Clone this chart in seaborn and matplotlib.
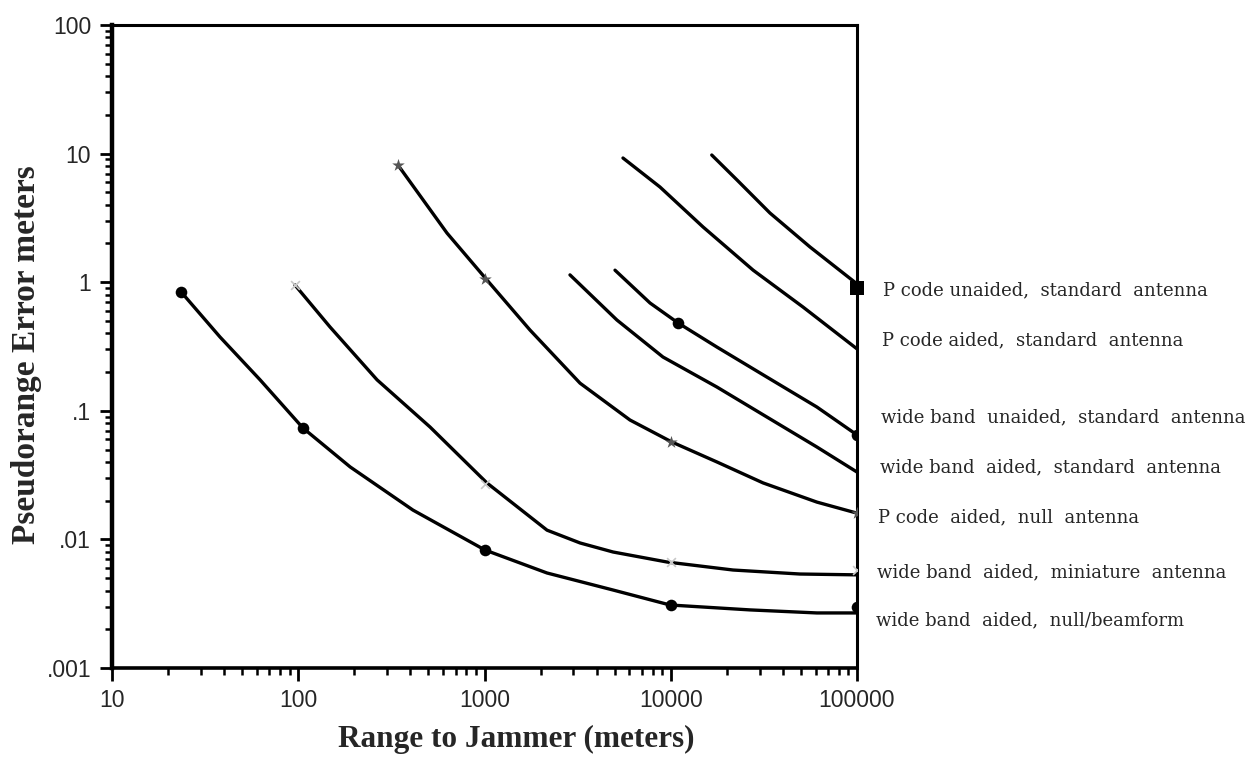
import matplotlib
matplotlib.use("Agg")
import matplotlib.pyplot as plt
import seaborn as sns
import pandas as pd
from matplotlib.ticker import FixedLocator, FixedFormatter, LogLocator, NullFormatter

# ---- data (range m, pseudorange error m) ----
pu_std_x = [16600, 22700, 34100, 55900, 100000]
pu_std_y = [9.75, 6.23, 3.45, 1.88, 0.97]

pa_std_x = [5540, 8750, 14900, 27700, 51300, 100000]
pa_std_y = [9.24, 5.50, 2.69, 1.24, 0.641, 0.303]

wu_std_x = [5020, 7740, 10950, 17700, 32800, 60900, 100000]
wu_std_y = [1.24, 0.689, 0.482, 0.313, 0.183, 0.107, 0.0649]

wa_std_x = [2877, 5140, 9080, 17700, 32800, 60900, 100000]
wa_std_y = [1.14, 0.508, 0.262, 0.153, 0.0895, 0.0523, 0.0334]

pa_null_x = [343, 629, 1031, 1754, 3258, 6040, 10160, 17700, 31300, 60900, 100000]
pa_null_y = [8.15, 2.41, 1.04, 0.425, 0.164, 0.0848, 0.0571, 0.040, 0.0275, 0.0195, 0.016]

wa_mini_x = [96, 148, 265, 510, 1030, 2166, 3260, 4900, 9550, 21600, 49400, 100000]
wa_mini_y = [0.951, 0.449, 0.174, 0.0748, 0.0275, 0.0118, 0.00938, 0.00798, 0.00667,
             0.00578, 0.00538, 0.0053]

wa_beam_x = [23.5, 38, 62.4, 106, 190, 413, 1006, 2166, 4900, 9910, 26600, 60900, 100000]
wa_beam_y = [0.84, 0.375, 0.174, 0.0735, 0.0366, 0.0169, 0.00827, 0.00548, 0.00404,
             0.00309, 0.00283, 0.00268, 0.00268]

# markers
sq_x, sq_y = [100000], [0.9]
dot_x = [10950, 100000, 23.5, 106, 1000, 10000, 100000]
dot_y = [0.482, 0.0649, 0.84, 0.0735, 0.0083, 0.0031, 0.0030]
star_x = [343, 1000, 10000, 100000]
star_y = [8.1, 1.05, 0.057, 0.016]
faint_x = [96, 1000, 10000, 100000]
faint_y = [0.95, 0.027, 0.0067, 0.0058]

labels = ["P code unaided,  standard  antenna",
          "P code aided,  standard  antenna",
          "wide band  unaided,  standard  antenna",
          "wide band  aided,  standard  antenna",
          "P code  aided,  null  antenna",
          "wide band  aided,  miniature  antenna",
          "wide band  aided,  null/beamform"]
label_y = [0.87, 0.355, 0.0895, 0.0366, 0.0149, 0.00557, 0.00236]

x_ticks = [10, 100, 1000, 10000, 100000]
x_ticklabels = ["10", "100", "1000", "10000", "100000"]
y_ticks = [0.001, 0.01, 0.1, 1, 10, 100]
y_ticklabels = [".001", ".01", ".1", "1", "10", "100"]

series = [(pu_std_x, pu_std_y), (pa_std_x, pa_std_y), (wu_std_x, wu_std_y),
          (wa_std_x, wa_std_y), (pa_null_x, pa_null_y), (wa_mini_x, wa_mini_y),
          (wa_beam_x, wa_beam_y)]

rows = []
for name, (xs, ys) in zip(labels, series):
    for xv, yv in zip(xs, ys):
        rows.append({"range": xv, "err": yv, "curve": name})
df = pd.DataFrame(rows)

sns.set_style("ticks")
plt.rcParams["font.family"] = ["Liberation Sans", "DejaVu Sans"]

fig = plt.figure(figsize=(12.47, 7.58), dpi=100)
ax = fig.add_axes([112 / 1247, 1 - 668 / 758, (857 - 112) / 1247, (668 - 25) / 758])

sns.lineplot(data=df, x="range", y="err", units="curve", estimator=None,
             color="black", linewidth=2.4, sort=False, ax=ax, legend=False)

sns.scatterplot(x=faint_x, y=faint_y, marker="x", color="#c8c8c8", s=40,
                linewidth=1.2, ax=ax, zorder=3, legend=False)
sns.scatterplot(x=star_x, y=star_y, marker="*", color="#555555", s=90,
                linewidth=0, ax=ax, zorder=3, legend=False)
sns.scatterplot(x=dot_x, y=dot_y, marker="o", color="black", s=70,
                linewidth=0, ax=ax, zorder=3, legend=False)
sns.scatterplot(x=sq_x, y=sq_y, marker="s", color="black", s=90,
                linewidth=0, ax=ax, zorder=4, legend=False, clip_on=False)

ax.set_xscale("log")
ax.set_yscale("log")
ax.set_xlim(10, 100000)
ax.set_ylim(0.001, 100)

ax.xaxis.set_major_locator(FixedLocator(x_ticks))
ax.xaxis.set_major_formatter(FixedFormatter(x_ticklabels))
ax.yaxis.set_major_locator(FixedLocator(y_ticks))
ax.yaxis.set_major_formatter(FixedFormatter(y_ticklabels))
ax.xaxis.set_minor_locator(LogLocator(base=10, subs=range(2, 10), numticks=20))
ax.yaxis.set_minor_locator(LogLocator(base=10, subs=range(2, 10), numticks=20))
ax.xaxis.set_minor_formatter(NullFormatter())
ax.yaxis.set_minor_formatter(NullFormatter())

ax.tick_params(axis="both", which="major", direction="out", length=9, width=2,
               color="black", labelsize=16.5, pad=6)
ax.tick_params(axis="both", which="minor", direction="out", length=5, width=1.8,
               color="black")

ax.spines["left"].set_linewidth(3.2)
ax.spines["bottom"].set_linewidth(2.6)
for s in ["top", "right"]:
    ax.spines[s].set_linewidth(2.2)
for s in ax.spines.values():
    s.set_color("black")
    s.set_visible(True)

ax.set_xlabel("Range to Jammer (meters)", fontsize=22.5, fontweight="bold",
              family=["Liberation Serif", "DejaVu Serif"])
ax.set_ylabel("Pseudorange Error meters", fontsize=24, fontweight="bold",
              family=["Liberation Serif", "DejaVu Serif"])
ax.xaxis.set_label_coords(0.542, -0.088)
ax.yaxis.set_label_coords(-0.094, 0.488)

for i, (lab, ly) in enumerate(zip(labels, label_y)):
    ax.annotate(lab, xy=(1, ly), xycoords=("axes fraction", "data"),
                xytext=(19 - i * 0.9, 0), textcoords="offset points",
                va="center", ha="left", fontsize=13,
                family=["DejaVu Serif"], annotation_clip=False)

fig.savefig("out.png", dpi=100, facecolor="white")
